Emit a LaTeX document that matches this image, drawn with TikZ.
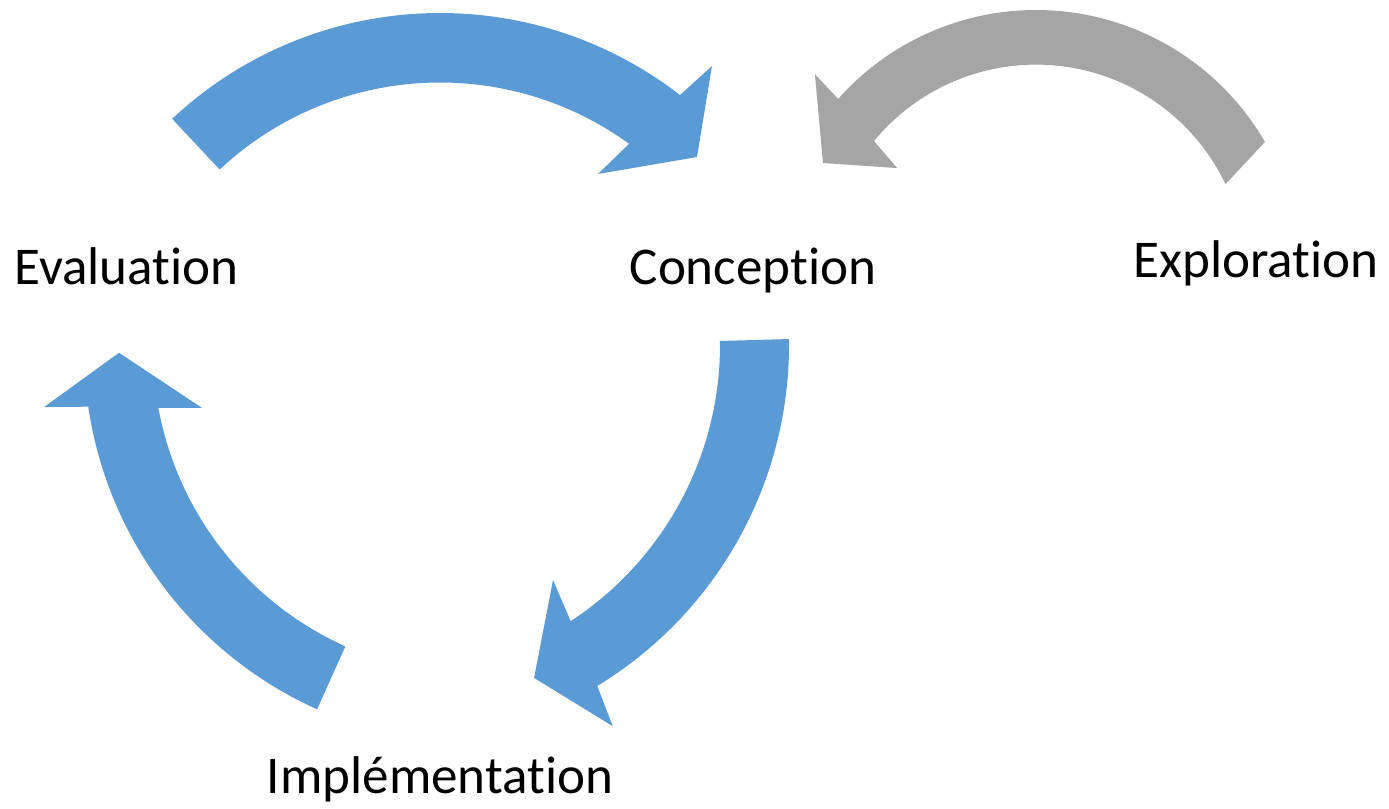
\documentclass[tikz,border=0pt]{standalone}
\usepackage{fontspec}
\setmainfont{Carlito}[Ligatures=NoCommon]
\usetikzlibrary{positioning}
\definecolor{bleu}{HTML}{5B9BD5}
\definecolor{gris}{HTML}{A5A5A5}

\begin{document}
\begin{tikzpicture}[x=0.01cm, y=0.01cm,
		etape/.style={font=\fontsize{15.1pt}{18pt}\selectfont, inner sep=0pt, anchor=base},
		fleche/.style={fill=bleu, draw=none},
		retour/.style={fill=gris, draw=none}]
		\useasboundingbox (0,0) rectangle (1389,808);

		\node[etape] (evaluation) at (126.5,524) {Evaluation};
		\node[etape] (conception) at (753,524) {Conception};
		\node[etape] (exploration) at (1256,531) {Exploration};
		\node[etape] (implementation) at (440,15) {Implémentation};

		\coordinate (c1) at (440,403);
		\coordinate (c2) at (390,463);
		\coordinate (c3) at (479,459);
		\coordinate (c4) at (1036,533.4);

		% evaluation -> conception
		\begin{scope}[shift={(c1)}]
			\fill[fleche] (133.1:392) arc[start angle=133.1, end angle=52.25, radius=392]
				-- (51.26:434.6) -- (43.98:357.1) -- (55.63:279.9) -- (54.09:322.5)
				arc[start angle=54.09, end angle=133.1, radius=322.5] -- cycle;
		\end{scope}

		% conception -> implementation
		\begin{scope}[shift={(c2)}]
			\fill[fleche] (0.86:399) arc[start angle=0.86, end angle=-58.7, radius=399]
				-- (-59.7:441.5) -- (-66.6:362.8) -- (-55.25:286) -- (-56.8:330)
				arc[start angle=-56.8, end angle=0.7, radius=330] -- cycle;
		\end{scope}

		% implementation -> evaluation
		\begin{scope}[shift={(c3)}]
			\fill[fleche] (245.8:395) arc[start angle=245.8, end angle=188.4, radius=395]
				-- (187.6:438.8) -- (180.6:360) -- (192:283.2) -- (190.4:326)
				arc[start angle=190.4, end angle=245.8, radius=326] -- cycle;
		\end{scope}

		% exploration -> conception
		\begin{scope}[shift={(c4)}]
			\fill[retour] (30.1:264.6) arc[start angle=30.1, end angle=138.4, radius=264.6]
				-- (137.8:298.5) -- (152.35:240.5) -- (142.5:175) -- (140.5:210)
				arc[start angle=140.5, end angle=25.5, radius=210] -- cycle;
		\end{scope}

	\end{tikzpicture}
\end{document}
